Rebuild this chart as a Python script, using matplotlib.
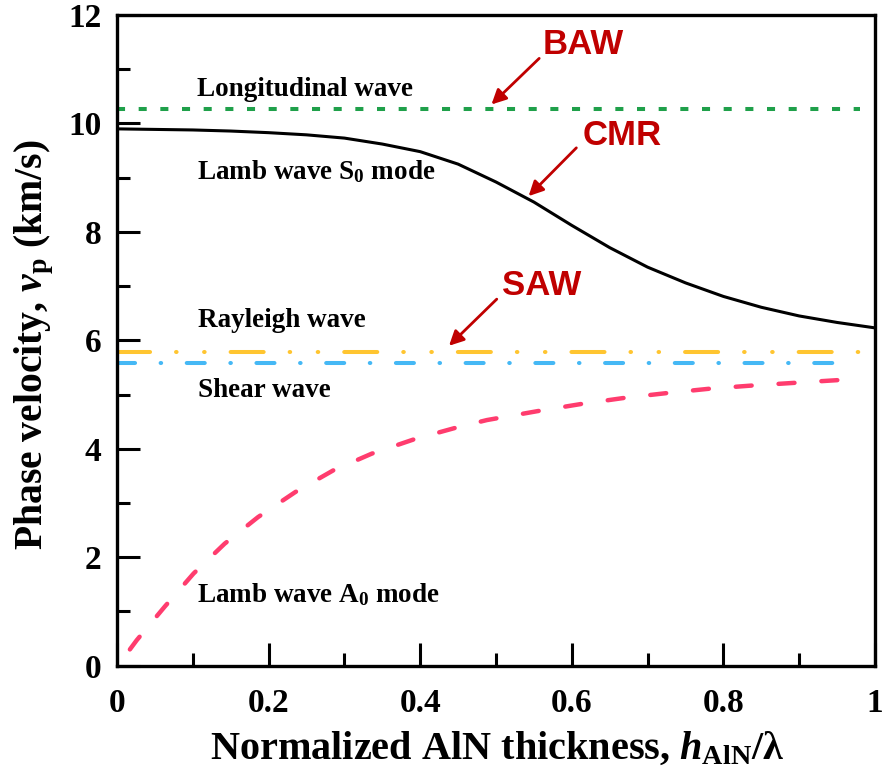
import numpy as np
import matplotlib
matplotlib.use("Agg")
import matplotlib.pyplot as plt
from matplotlib.ticker import MultipleLocator

# Data
s0_x = [0.0, 0.05, 0.10, 0.15, 0.20, 0.25, 0.30, 0.35, 0.40, 0.45, 0.50,
        0.55, 0.60, 0.65, 0.70, 0.75, 0.80, 0.85, 0.90, 0.95, 1.0]
s0_v = [9.90, 9.89, 9.88, 9.86, 9.83, 9.79, 9.73, 9.62, 9.48, 9.25, 8.92,
        8.55, 8.12, 7.71, 7.35, 7.06, 6.81, 6.61, 6.45, 6.33, 6.23]

a0_x = [0.017, 0.026, 0.063, 0.101, 0.142, 0.186, 0.235, 0.285, 0.336, 0.393,
        0.450, 0.488, 0.557, 0.614, 0.670, 0.727, 0.783, 0.841, 0.898, 0.955,
        0.967]
a0_v = [0.30, 0.47, 1.09, 1.70, 2.25, 2.74, 3.20, 3.60, 3.91, 4.18,
        4.40, 4.53, 4.70, 4.83, 4.94, 5.03, 5.11, 5.17, 5.22, 5.27,
        5.28]

long_x = [0.0, 0.98]
long_v = [10.26, 10.26]
rayl_x = [0.0, 0.98]
rayl_v = [5.78, 5.78]
shear_x = [0.0, 0.971]
shear_v = [5.58, 5.58]

x_ticks = [0, 0.2, 0.4, 0.6, 0.8, 1]
x_ticklabels = ['0', '0.2', '0.4', '0.6', '0.8', '1']
y_ticks = [0, 2, 4, 6, 8, 10, 12]

plt.rcParams['font.family'] = ['Liberation Serif', 'DejaVu Serif']
plt.rcParams['font.weight'] = 'bold'
plt.rcParams['mathtext.fontset'] = 'custom'
plt.rcParams['mathtext.rm'] = 'Liberation Serif:bold'
plt.rcParams['mathtext.bf'] = 'Liberation Serif:bold'
plt.rcParams['mathtext.it'] = 'Liberation Serif:italic:bold'
plt.rcParams['lines.scale_dashes'] = False

fig = plt.figure(figsize=(8.88, 7.76), dpi=100)
ax = fig.add_axes([117 / 888, 1 - 665.7 / 776, 758 / 888, (665.7 - 15) / 776])

# curves
ax.plot(long_x, long_v, color='#1FA04A', lw=2.9, linestyle=(0, (5.8, 9.8)))
ax.plot(s0_x, s0_v, color='black', lw=2.2)
ax.plot(rayl_x, rayl_v, color='#FFC530', lw=2.9, dash_capstyle='round',
        linestyle=(0, (23.8, 18.7, 0.4, 19.8, 0.4, 18.7)))
ax.plot(shear_x, shear_v, color='#45B8F5', lw=2.9, dash_capstyle='round',
        linestyle=(0, (13.0, 18.4, 0.4, 18.4)))
ax.plot(a0_x, a0_v, color='#FF3C6E', lw=3.2, dash_capstyle='round',
        linestyle=(0, (11.5, 19.4)))

ax.set_xlim(0, 1)
ax.set_ylim(0, 12)
ax.set_xticks(x_ticks)
ax.set_xticklabels(x_ticklabels)
ax.set_yticks(y_ticks)
ax.xaxis.set_minor_locator(MultipleLocator(0.1))
ax.yaxis.set_minor_locator(MultipleLocator(1))
ax.tick_params(which='major', direction='in', length=16.5, width=2.2,
               labelsize=24, top=False, right=False)
ax.tick_params(which='minor', direction='in', length=9.4, width=2.2,
               top=False, right=False)
ax.tick_params(axis='x', which='major', pad=16)
ax.tick_params(axis='y', which='major', pad=11)
for sp in ax.spines.values():
    sp.set_linewidth(2.4)

ax.set_xlabel('Normalized AlN thickness, $h_{\\rm AlN}$/\u03bb', fontsize=29,
              fontweight='bold')
ax.set_ylabel('Phase velocity, $v_{\\rm p}$ (km/s)', fontsize=28.5,
              fontweight='bold')
ax.xaxis.set_label_coords(0.501, -0.099)
ax.yaxis.set_label_coords(-0.081, 0.493)

# curve labels
lab = dict(fontsize=19.5, fontweight='bold', ha='left', va='baseline')
ax.text(0.1055, 10.50, 'Longitudinal wave', **lab)
ax.text(0.1055, 8.97, 'Lamb wave S$_0$ mode', **lab)
ax.text(0.107, 6.24, 'Rayleigh wave', **lab)
ax.text(0.107, 4.95, 'Shear wave', **lab)
ax.text(0.105, 1.18, 'Lamb wave A$_0$ mode', **lab)

# red callouts
red = '#C00000'
rfont = dict(fontsize=25, fontweight='bold', color=red, ha='center',
             va='center', family='Liberation Sans')
arr = dict(arrowstyle='-|>', color=red, lw=2.0, mutation_scale=22,
           shrinkA=0, shrinkB=0)
ax.text(0.615, 11.46, 'BAW', **rfont)
ax.annotate('', xy=(0.494, 10.35), xytext=(0.557, 11.2), arrowprops=arr)
ax.text(0.666, 9.77, 'CMR', **rfont)
ax.annotate('', xy=(0.543, 8.66), xytext=(0.606, 9.55), arrowprops=arr)
ax.text(0.560, 7.01, 'SAW', **rfont)
ax.annotate('', xy=(0.438, 5.90), xytext=(0.501, 6.76), arrowprops=arr)

fig.savefig('out.png', dpi=100)
